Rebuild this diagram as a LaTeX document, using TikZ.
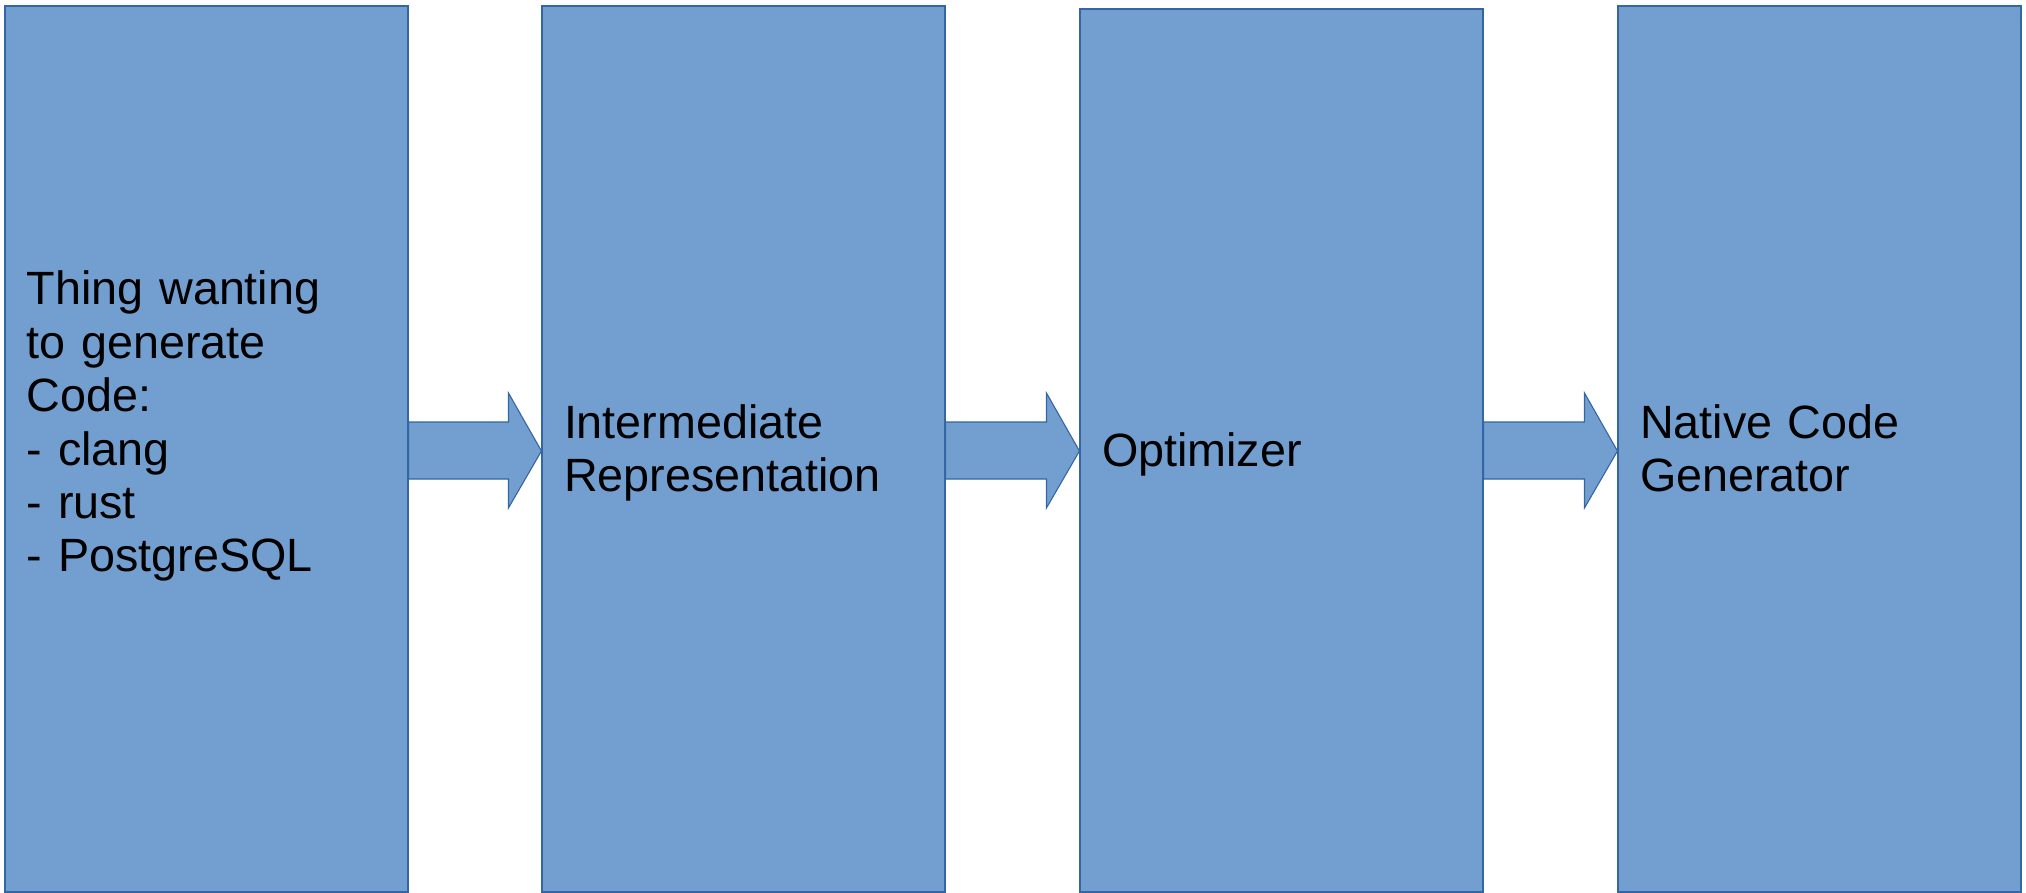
\documentclass[tikz,border=0pt]{standalone}
\usepackage{fontspec}
\setmainfont{Liberation Sans}
\usetikzlibrary{calc}
\definecolor{boxfill}{HTML}{729FCF}
\definecolor{boxline}{HTML}{3465A4}
\newcommand\ls{\rule[-9.9pt]{0pt}{52.2pt}}
\tikzset{
  box/.style={draw=boxline, fill=boxfill, line width=1.1pt, minimum width=403, minimum height=886,
    text width=359, inner xsep=22, inner ysep=0, align=left, text=black,
    font=\fontsize{46.7}{53.4}\selectfont},
  arr/.style={draw=boxline, fill=boxfill, line width=1.1pt, line join=miter}
}
\begin{document}
\begin{tikzpicture}[x=1pt,y=-1pt]
\useasboundingbox (0,0) rectangle (2026,893);
\node[box] (b1) at (206.5,449) {\ls Thing wanting\\ \ls to generate\\ \ls Code:\\ \ls - clang\\ \ls - rust\\ \ls - PostgreSQL\\ \ls};
\node[box] (b2) at (743.5,449) {\ls Intermediate\\ \ls Representation};
\node[box, minimum height=883] (b3) at (1281.5,450.5) {\ls Optimizer};
\node[box] (b4) at (1819.5,449) {\ls Native Code\\ \ls Generator};
\foreach \a/\b in {b1/b2, b2/b3, b3/b4}{
  \coordinate (s) at (\a.east |- b1.east);
  \coordinate (t) at (\b.west |- b1.east);
  \draw[arr] ($(s)+(0,-27)$) -- ($(t)+(-33,-27)$) -- ($(t)+(-33,-56)$)
    -- ($(t)+(0,2)$) -- ($(t)+(-33,59)$) -- ($(t)+(-33,30)$)
    -- ($(s)+(0,30)$) -- cycle;
}
\end{tikzpicture}
\end{document}
